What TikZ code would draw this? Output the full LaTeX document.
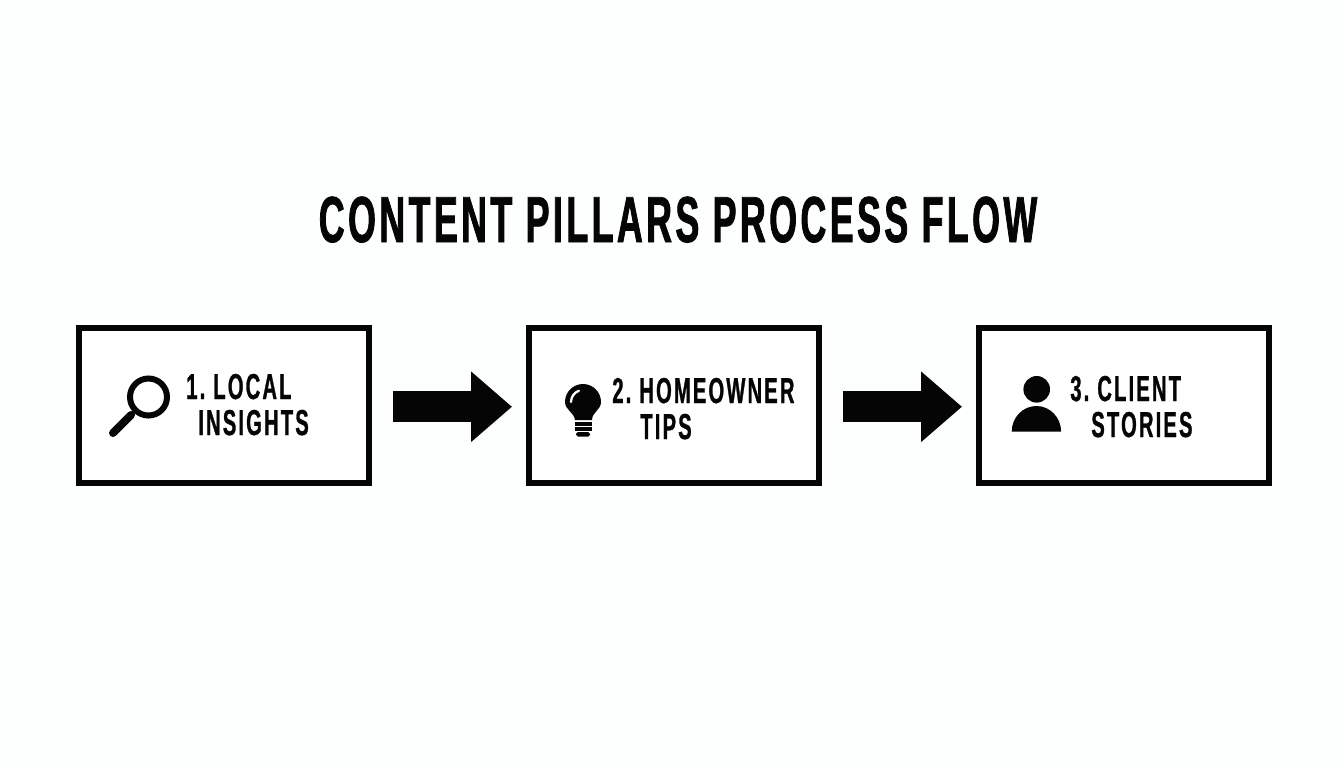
\documentclass[tikz,border=0pt]{standalone}
\usepackage{fontspec}
\setmainfont{Liberation Sans}
\newfontfamily\titlefont[FakeStretch=0.55,LetterSpace=5.3,FakeBold=1.2]{Liberation Sans Bold}
\newfontfamily\stepfont[FakeStretch=0.56,LetterSpace=6,WordSpace=0.7,FakeBold=0.8]{Liberation Sans Bold}
\usetikzlibrary{arrows.meta}
\definecolor{paper}{HTML}{FDFEFE}
\definecolor{ink}{HTML}{050505}
\tikzset{
    pillarbox/.style={draw=ink,line width=0.12cm,fill=white,minimum width=5.8cm,minimum height=3.1cm},
    steptext/.style={anchor=base west,inner sep=0pt,text=ink,font=\stepfont\fontsize{20.5}{24}\selectfont},
    bigarrow/.style={draw=ink,line width=0.62cm,-{Triangle[length=0.82cm,width=1.36cm]}}
}
\begin{document}
\begin{tikzpicture}[x=0.02cm,y=-0.02cm]
    \useasboundingbox (0,0) rectangle (1344,768);
    \fill[paper] (0,0) rectangle (1344,768);
    \node[anchor=base,inner sep=0pt,text=ink,font=\titlefont\fontsize{37}{40}\selectfont] (title) at (678,242) {CONTENT PILLARS PROCESS FLOW};
    % boxes
    \node[pillarbox] (local) at (224,405.5) {};
    \node[pillarbox] (tips) at (674,405.5) {};
    \node[pillarbox] (stories) at (1124,405.5) {};
    % arrows
    \draw[bigarrow,shorten <=0.42cm,shorten >=0.28cm] ([yshift=-0.025cm]local.east) -- ([yshift=-0.025cm]tips.west);
    \draw[bigarrow,shorten <=0.42cm,shorten >=0.28cm] ([yshift=-0.025cm]tips.east) -- ([yshift=-0.025cm]stories.west);
    % magnifier
    \draw[ink,line width=0.12cm] (148.5,397) circle (18.5);
    \draw[ink,line width=0.07cm] (137,409) -- (131,415);
    \draw[ink,line width=0.16cm,line cap=round] (131,415) -- (113,433);
    % bulb
    \fill[ink] (575,420) .. controls (574,412) and (565,410) .. (565,402) arc (180:360:18) .. controls (601,410) and (592,412) .. (592,420) -- cycle;
    \draw[white,line width=0.045cm,line cap=round] (571,402) arc (180:250:12);
    \fill[ink] (574.5,422) rectangle (592,425.5);
    \fill[ink] (574.5,427) rectangle (592,430.5);
    \fill[ink,rounded corners=1pt] (576,432) rectangle (590,436.5);
    % person
    \fill[ink] (1036.7,389.3) circle (13.3);
    \fill[ink] (1011.7,431.7) arc (180:360:24.7 and 25.7) -- cycle;
    % labels
    \node[steptext] (local1) at (186,399) {1. LOCAL};
    \node[steptext] (local2) at (198,435) {INSIGHTS};
    \node[steptext] (tips1) at (612,403) {2. HOMEOWNER};
    \node[steptext] (tips2) at (640,439) {TIPS};
    \node[steptext] (stories1) at (1070,401) {3. CLIENT};
    \node[steptext] (stories2) at (1091,437) {STORIES};
\end{tikzpicture}
\end{document}
